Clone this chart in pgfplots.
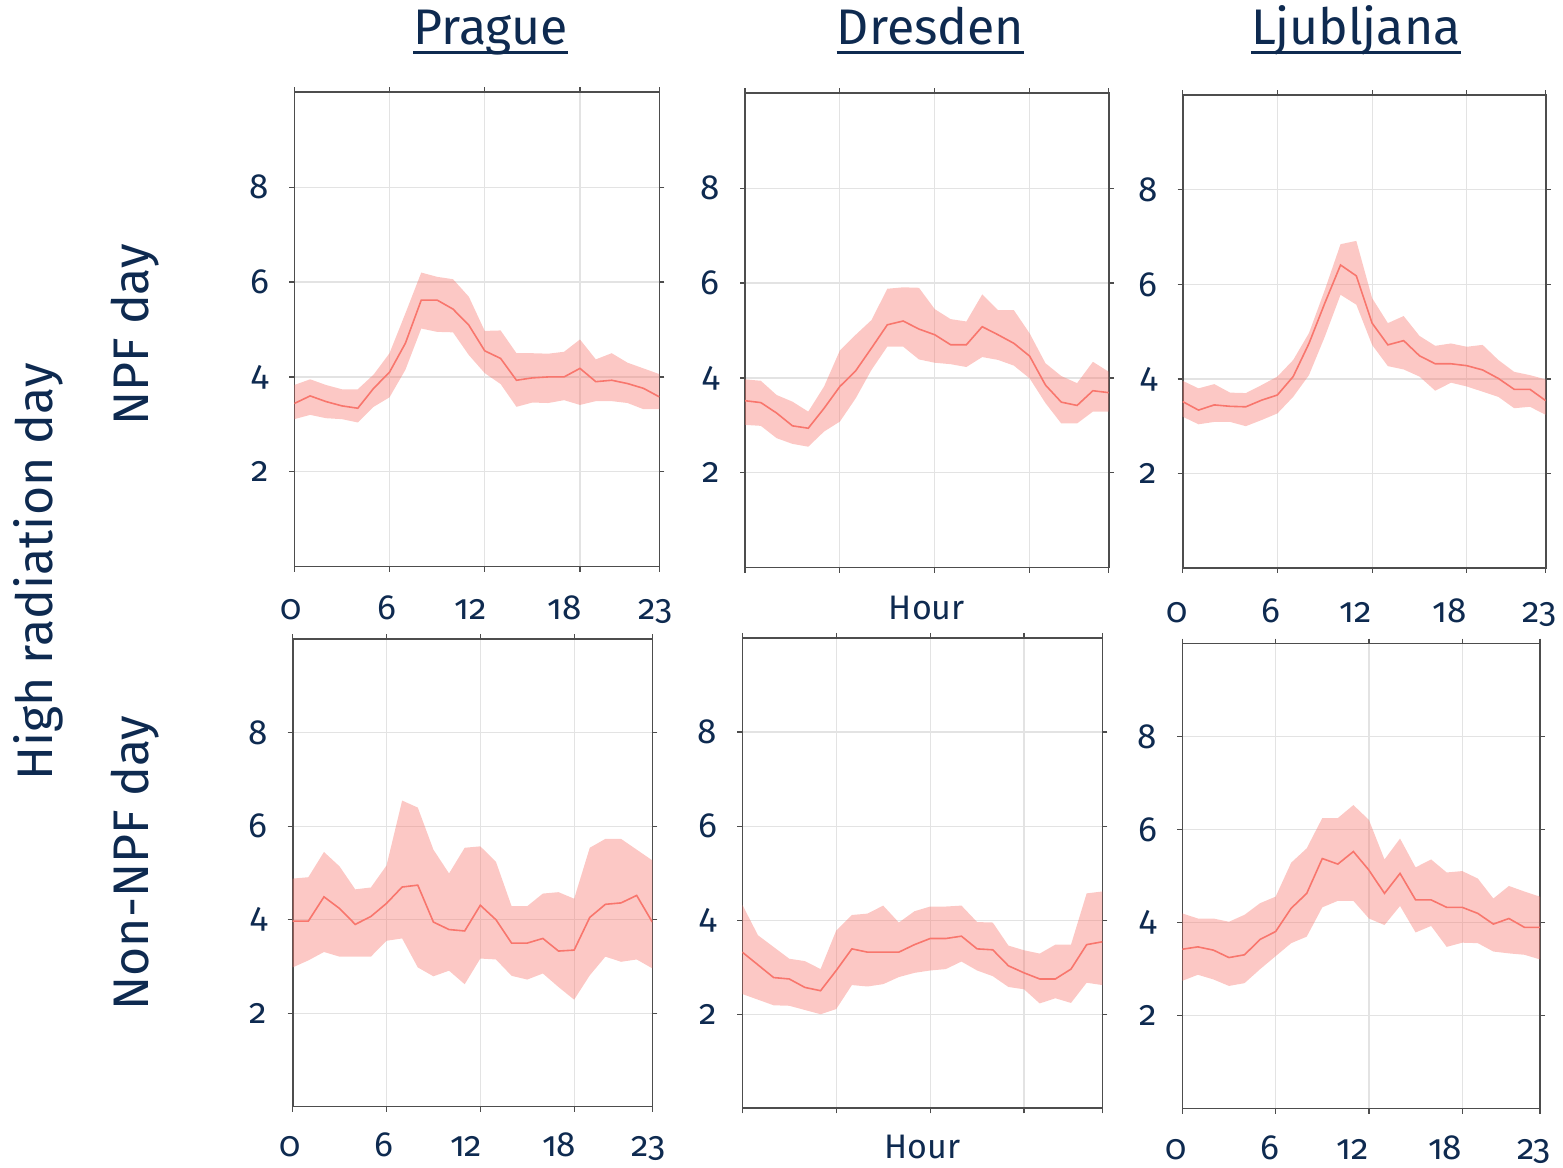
\documentclass[border=0pt]{standalone}
\usepackage{pgfplots}
\pgfplotsset{compat=1.18}
\usepgfplotslibrary{fillbetween}
\usepackage{pgfplotstable}
\usepackage{fontspec}
\setmainfont{Fira Sans}[Numbers=OldStyle]

\definecolor{ink}{HTML}{0E2A50}
\definecolor{series}{HTML}{F8766D}
\definecolor{gridc}{HTML}{E3E3E3}
\definecolor{frame}{HTML}{4D4D4D}

% hourly mean with lower / upper band limits
\pgfplotstableread{
h m lo hi
0 3.44 3.11 3.83
1 3.60 3.20 3.95
2 3.48 3.13 3.83
3 3.39 3.11 3.74
4 3.34 3.04 3.74
5 3.76 3.37 4.05
6 4.10 3.57 4.50
7 4.71 4.15 5.34
8 5.62 5.02 6.20
9 5.62 4.95 6.11
10 5.43 4.94 6.06
11 5.09 4.46 5.69
12 4.55 4.08 4.97
13 4.39 3.85 4.98
14 3.93 3.37 4.50
15 3.98 3.46 4.50
16 4.00 3.45 4.49
17 4.00 3.51 4.53
18 4.18 3.41 4.79
19 3.90 3.49 4.37
20 3.93 3.49 4.50
21 3.86 3.45 4.30
22 3.76 3.32 4.18
23 3.58 3.32 4.06
}\pragueNPF

\pgfplotstableread{
h m lo hi
0 3.52 3.01 3.97
1 3.48 2.99 3.94
2 3.26 2.73 3.64
3 2.99 2.61 3.50
4 2.94 2.55 3.29
5 3.36 2.87 3.82
6 3.82 3.08 4.58
7 4.15 3.57 4.91
8 4.63 4.17 5.22
9 5.12 4.66 5.88
10 5.20 4.66 5.91
11 5.03 4.39 5.90
12 4.91 4.32 5.45
13 4.70 4.29 5.24
14 4.70 4.23 5.19
15 5.08 4.44 5.76
16 4.91 4.38 5.43
17 4.73 4.26 5.43
18 4.46 3.99 4.94
19 3.85 3.47 4.31
20 3.49 3.04 4.04
21 3.42 3.04 3.89
22 3.73 3.29 4.34
23 3.69 3.29 4.13
}\dresdenNPF

\pgfplotstableread{
h m lo hi
0 3.52 3.20 3.96
1 3.34 3.04 3.80
2 3.45 3.09 3.89
3 3.42 3.09 3.71
4 3.41 3.00 3.70
5 3.55 3.13 3.87
6 3.66 3.27 4.05
7 4.05 3.62 4.40
8 4.75 4.08 4.97
9 5.60 4.89 5.88
10 6.41 5.78 6.85
11 6.18 5.57 6.92
12 5.18 4.72 5.71
13 4.72 4.27 5.18
14 4.81 4.20 5.33
15 4.49 4.05 4.91
16 4.32 3.75 4.70
17 4.32 3.92 4.75
18 4.28 3.84 4.68
19 4.19 3.73 4.72
20 4.01 3.62 4.40
21 3.78 3.38 4.15
22 3.78 3.41 4.08
23 3.54 3.24 3.99
}\ljubljanaNPF

\pgfplotstableread{
h m lo hi
0 3.97 2.98 4.88
1 3.97 3.13 4.91
2 4.49 3.31 5.45
3 4.24 3.21 5.14
4 3.90 3.21 4.65
5 4.07 3.21 4.69
6 4.35 3.55 5.16
7 4.70 3.60 6.55
8 4.74 2.98 6.40
9 3.95 2.79 5.50
10 3.79 2.91 4.99
11 3.76 2.62 5.54
12 4.31 3.17 5.57
13 4.00 3.15 5.24
14 3.50 2.80 4.29
15 3.50 2.72 4.29
16 3.60 2.85 4.56
17 3.33 2.56 4.59
18 3.35 2.29 4.45
19 4.05 2.81 5.54
20 4.33 3.21 5.73
21 4.36 3.10 5.73
22 4.52 3.15 5.50
23 3.95 2.96 5.27
}\pragueNon

\pgfplotstableread{
h m lo hi
0 3.32 2.43 4.33
1 3.05 2.31 3.68
2 2.78 2.19 3.43
3 2.75 2.18 3.18
4 2.57 2.09 3.13
5 2.50 2.00 2.96
6 2.93 2.11 3.78
7 3.39 2.62 4.11
8 3.32 2.59 4.14
9 3.32 2.64 4.31
10 3.32 2.79 3.95
11 3.48 2.88 4.19
12 3.61 2.93 4.29
13 3.61 2.96 4.29
14 3.66 3.12 4.31
15 3.39 2.93 3.96
16 3.37 2.81 3.95
17 3.03 2.58 3.46
18 2.88 2.53 3.36
19 2.75 2.23 3.29
20 2.75 2.34 3.48
21 2.96 2.24 3.48
22 3.48 2.67 4.57
23 3.54 2.62 4.61
}\dresdenNon

\pgfplotstableread{
h m lo hi
0 3.43 2.75 4.20
1 3.48 2.88 4.09
2 3.41 2.78 4.09
3 3.25 2.64 4.02
4 3.31 2.70 4.17
5 3.64 3.00 4.42
6 3.81 3.28 4.56
7 4.31 3.56 5.29
8 4.63 3.70 5.60
9 5.38 4.33 6.25
10 5.26 4.47 6.25
11 5.53 4.47 6.53
12 5.13 4.09 6.21
13 4.63 3.95 5.36
14 5.06 4.36 5.81
15 4.49 3.79 5.19
16 4.49 3.93 5.36
17 4.33 3.48 5.08
18 4.33 3.57 5.11
19 4.20 3.56 4.95
20 3.97 3.38 4.52
21 4.09 3.34 4.79
22 3.90 3.31 4.67
23 3.90 3.21 4.56
}\ljubljanaNon

% hour labels: one-digit labels centred a little left of the tick,
% two-digit labels ending at the tick
\newcommand\lc[2]{\makebox[0pt]{\hspace*{-#1}#2}}
\newcommand\rt[1]{\makebox[0pt][r]{#1\hspace*{-1pt}}}

\pgfplotsset{
  panel/.style={
    scale only axis,
    xmin=0, xmax=23, ymin=0, ymax=10,
    xtick={0,6,12,18,23}, ytick={2,4,6,8},
    xticklabels={\lc{3pt}{0},\lc{3pt}{6},\rt{12},\rt{18},\lc{4pt}{23}},
    tick align=outside, tick pos=both,
    xticklabel pos=bottom, yticklabel pos=left,
    major tick length=2.5pt,
    grid=major, major grid style={gridc, line width=0.6pt},
    axis line style={frame, line width=0.8pt},
    every tick/.style={frame, line width=0.6pt},
    ticklabel style={font=\fontsize{17.5}{20}\selectfont, text=ink, inner sep=0pt},
    yticklabel style={anchor=east, xshift=-10pt},
    xticklabel style={anchor=base, yshift=-24pt},
    /pgf/number format/assume math mode=true,
    xlabel style={font=\fontsize{17}{20}\selectfont, text=ink, inner sep=0pt,
      at={(axis description cs:0.5,0)}, anchor=base},
  },
  eastlabels/.style={xticklabels={\lc{6pt}{0},\lc{6pt}{6},\makebox[0pt][r]{12},\makebox[0pt][r]{18},\lc{6pt}{23}}},
  nolabels/.style={xticklabels={}},
}

% band between lower and upper limit, mean line on top
\newcommand\hourband[2]{%
  \addplot[name path=#2hi, draw=none, forget plot] table[x=h, y=hi]{#1};
  \addplot[name path=#2lo, draw=none, forget plot] table[x=h, y=lo]{#1};
  \addplot[fill=series, fill opacity=0.4, draw=none, forget plot] fill between[of=#2hi and #2lo];
  \addplot[series, line width=0.8pt, forget plot] table[x=h, y=m]{#1};
}

\newcommand\city[3]{%
  \node[anchor=base, inner sep=0pt, text=ink, font=\fontsize{25}{30}\selectfont] (#3) at (#1) {#2};
  \draw[ink, line width=1.4pt] ([yshift=-3.65pt]#3.base west) -- ([yshift=-3.65pt]#3.base east);
}

\tikzset{rowtitle/.style={rotate=90, anchor=base, inner sep=0pt, text=ink, font=\fontsize{25}{30}\selectfont}}

\begin{document}
\begin{tikzpicture}

% top row: NPF days
\begin{axis}[panel, at={(147.15pt,300.15pt)}, anchor=south west, width=182.5pt, height=237.2pt]
\hourband{\pragueNPF}{a}
\end{axis}
\begin{axis}[panel, nolabels, at={(372.5pt,299.65pt)}, anchor=south west, width=181.85pt, height=237.2pt,
  xlabel={Hour}, xlabel style={yshift=-26pt}]
\hourband{\dresdenNPF}{b}
\end{axis}
\begin{axis}[panel, eastlabels, at={(591.35pt,299.5pt)}, anchor=south west, width=181.5pt, height=236.35pt,
  xticklabel style={yshift=-1pt}]
\hourband{\ljubljanaNPF}{c}
\end{axis}

% bottom row: non-NPF days
\begin{axis}[panel, at={(146.35pt,30.15pt)}, anchor=south west, width=179.8pt, height=233.7pt,
  xticklabel style={yshift=1.5pt}]
\hourband{\pragueNon}{d}
\end{axis}
\begin{axis}[panel, nolabels, at={(371.15pt,29.35pt)}, anchor=south west, width=180pt, height=235.15pt,
  xlabel={Hour}, xlabel style={yshift=-25pt}]
\hourband{\dresdenNon}{e}
\end{axis}
\begin{axis}[panel, eastlabels, at={(591.15pt,29.15pt)}, anchor=south west, width=178.85pt, height=232.5pt,
  xticklabel style={yshift=1pt}]
\hourband{\ljubljanaNon}{f}
\end{axis}

% column titles
\city{245.25pt,561pt}{Prague}{tp}
\city{465.25pt,561pt}{Dresden}{td}
\city{678pt,561pt}{Ljubljana}{tl}

% row titles
\node[rowtitle] at (74pt,416pt) {NPF day};
\node[rowtitle] at (74pt,152pt) {Non-NPF day};
\node[rowtitle] at (26pt,297.5pt) {High radiation day};

% page frame
\pgfresetboundingbox
\path[use as bounding box] (0,0) rectangle (781.5pt,583.5pt);
\end{tikzpicture}
\end{document}
